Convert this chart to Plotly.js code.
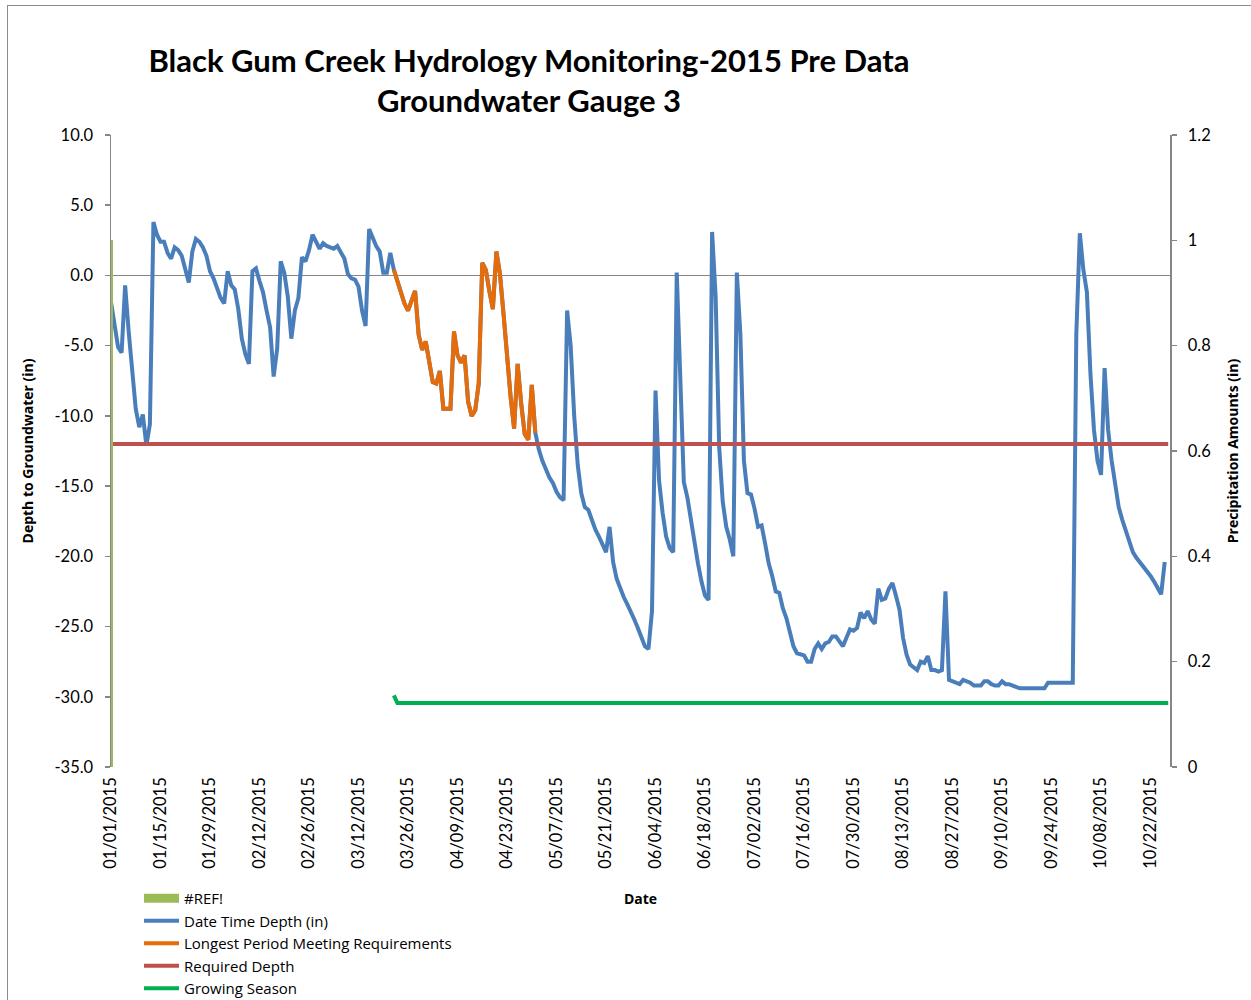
<!DOCTYPE html>
<html>
<head>
<meta charset="utf-8">
<script src="https://cdn.plot.ly/plotly-3.0.1.min.js"></script>
<style>
  html, body { margin:0; padding:0; background:#fff; overflow:hidden; }
  #chart { width:1251px; height:1000px; }
  #frame { position:absolute; left:7px; top:5px; width:1400px; height:1200px; border:1.5px solid #8c8c8c; pointer-events:none; }
</style>
</head>
<body>
<div id="chart"></div>
<div id="frame"></div>
<script>
// ---- data ----
var startDate = '2015-01-01';
// daily groundwater depth (in), one value per day from 01/01/2015
var depthIn = [
  -1.9, -3.6, -5.1, -5.5, -0.7, -4.0, -6.5, -9.5, -10.8, -9.9,
  -12.1, -10.6, 3.8, 2.9, 2.4, 2.4, 1.6, 1.2, 2.0, 1.8,
  1.4, 0.5, -0.5, 1.7, 2.6, 2.4, 2.0, 1.4, 0.3, -0.2,
  -1.0, -1.6, -2.0, 0.3, -0.7, -1.0, -2.4, -4.5, -5.6, -6.3,
  0.3, 0.5, -0.4, -1.2, -2.5, -3.7, -7.2, -5.2, 1.0, 0.2,
  -1.5, -4.5, -2.5, -1.6, 1.3, 1.0, 1.8, 2.9, 2.4, 1.9,
  2.3, 2.1, 2.0, 1.9, 2.1, 1.6, 1.2, 0.1, -0.2, -0.3,
  -0.8, -2.5, -3.6, 3.3, 2.7, 2.1, 1.7, 0.2, 0.2, 1.6,
  0.4, -0.3, -1.2, -2.0, -2.5, -1.8, -1.1, -4.2, -5.3, -4.7,
  -6.3, -7.6, -7.7, -6.8, -9.5, -9.5, -9.5, -4.0, -5.7, -6.2,
  -5.7, -9.0, -10.0, -9.6, -7.7, 0.9, 0.4, -1.1, -2.4, 1.7,
  0.1, -2.7, -5.8, -8.6, -10.9, -6.3, -9.1, -11.3, -11.7, -7.8,
  -11.2, -12.4, -13.2, -13.8, -14.4, -14.8, -15.4, -15.8, -16.0, -2.5,
  -5.0, -10.0, -13.5, -15.5, -16.5, -16.7, -17.5, -18.1, -18.6, -19.2,
  -19.7, -17.9, -20.4, -21.6, -22.3, -22.9, -23.4, -23.9, -24.5, -25.1,
  -25.8, -26.4, -26.6, -23.9, -8.2, -14.6, -16.9, -18.6, -19.4, -19.7,
  0.2, -8.4, -14.7, -15.8, -17.5, -19.0, -20.5, -21.8, -22.8, -23.1,
  3.1, -1.5, -12.2, -16.1, -17.9, -18.8, -20.0, 0.2, -4.2, -13.2,
  -15.5, -15.6, -16.6, -17.9, -17.8, -19.1, -20.5, -21.4, -22.5, -22.6,
  -23.7, -24.4, -25.5, -26.4, -26.9, -27.0, -27.05, -27.5, -27.5, -26.6,
  -26.2, -26.6, -26.2, -26.1, -25.7, -25.7, -26.0, -26.4, -25.8, -25.2,
  -25.3, -25.1, -24.0, -24.4, -23.9, -24.5, -24.8, -22.3, -23.1, -23.0,
  -22.3, -21.9, -22.8, -23.8, -25.8, -27.0, -27.7, -27.9, -28.1, -27.5,
  -27.6, -27.1, -28.1, -28.1, -28.2, -28.1, -22.5, -28.8, -28.9, -29.0,
  -29.1, -28.8, -28.9, -29.0, -29.2, -29.2, -29.2, -28.9, -28.9, -29.1,
  -29.2, -29.2, -28.9, -29.1, -29.1, -29.2, -29.3, -29.4, -29.4, -29.4,
  -29.4, -29.4, -29.4, -29.4, -29.4, -29.0, -29.0, -29.0, -29.0, -29.0,
  -29.0, -29.0, -29.0, -4.2, 3.0, 0.4, -1.2, -7.0, -11.0, -13.2,
  -14.2, -6.6, -11.0, -13.2, -15.0, -16.5, -17.4, -18.1, -18.9, -19.7,
  -20.1, -20.4, -20.8, -21.1, -21.4, -21.8, -22.2, -22.7, -20.4
];
// longest period meeting requirements: index range into the daily series
var longestStartIdx = 80;   // 03/22/2015
var longestEndIdx = 120;    // 04/30/2015
// required depth line
var reqDates = ['2015-01-01', '2015-10-27'];
var reqDepth = [-12, -12];
// growing season line
var growDates = ['2015-03-22', '2015-03-23', '2015-10-27'];
var growVals = [-29.9, -30.45, -30.45];
// #REF! series (secondary axis, precipitation)
var refDates = ['2015-01-01'];
var refVals = [1.0];
// axes
var xRange = ['2015-01-01', '2015-10-27 12:00'];
var leftRange = [-35, 10];
var leftTickVals = [-35, -30, -25, -20, -15, -10, -5, 0, 5, 10];
var leftTickText = ['-35.0', '-30.0', '-25.0', '-20.0', '-15.0', '-10.0', '-5.0', '0.0', '5.0', '10.0'];
var rightRange = [0, 1.2];
var rightTickVals = [0, 0.2, 0.4, 0.6, 0.8, 1, 1.2];
var rightTickText = ['0', '0.2', '0.4', '0.6', '0.8', '1', '1.2'];

// ---- build ----
function dayStr(i) {
  var d = new Date(Date.UTC(2015, 0, 1 + i));
  return d.toISOString().slice(0, 10);
}
var dates = depthIn.map(function (v, i) { return dayStr(i); });

var FONT = 'Lato, "Open Sans", sans-serif';
var FONT2 = '"Open Sans", Lato, sans-serif';
var DAY = 86400000;

var traces = [
  { type:'bar', x: refDates, y: refVals, yaxis:'y2', width: 1.2*DAY,
    marker:{ color:'#9BBB59', line:{width:0} }, name:'#REF!', legendgroup:'ref', showlegend:false, hoverinfo:'skip' },
  { type:'scatter', mode:'lines', x:[null], y:[null], name:'#REF!', legendgroup:'ref',
    line:{ color:'#9BBB59', width:9 } },
  { type:'scatter', mode:'lines', x: dates, y: depthIn, name:'Date Time Depth (in)',
    line:{ color:'#4A7EBB', width:4 } },
  { type:'scatter', mode:'lines', x: dates.slice(longestStartIdx, longestEndIdx + 1),
    y: depthIn.slice(longestStartIdx, longestEndIdx + 1), name:'Longest Period Meeting Requirements',
    line:{ color:'#E46C0A', width:4 } },
  { type:'scatter', mode:'lines', x: reqDates, y: reqDepth, name:'Required Depth',
    line:{ color:'#C0504D', width:4 } },
  { type:'scatter', mode:'lines', x: growDates, y: growVals, name:'Growing Season',
    line:{ color:'#00B050', width:4 } }
];

var layout = {
  width:1251, height:1000,
  margin:{ l:111, r:81, t:135, b:233, autoexpand:false },
  paper_bgcolor:'#fff', plot_bgcolor:'#fff',
  font:{ family: FONT, size:16, color:'#000' },
  showlegend:true,
  title:{ text:'Black Gum Creek Hydrology Monitoring-2015 Pre Data<br>Groundwater Gauge 3',
    font:{ family: FONT, size:31, color:'#000', weight:'bold' },
    x: 529/1251, xref:'container', xanchor:'center', y: 1 - 72/1000, yref:'container', yanchor:'top' },
  xaxis:{ type:'date', range: xRange, tick0:'2015-01-01', dtick: 14*DAY, tickformat:'%m/%d/%Y',
    tickangle:-90, showgrid:false, zeroline:false, showline:false, ticks:'',
    ticklabelstandoff: 6,
    tickfont:{ family: FONT, size:16.5, color:'#000' },
    title:{ text:'Date', font:{ family: FONT2, size:14, weight:'bold', color:'#000' }, standoff: 26 } },
  yaxis:{ range: leftRange, tickmode:'array', tickvals: leftTickVals, ticktext: leftTickText, showgrid:false,
    zeroline:true, zerolinecolor:'#868686', zerolinewidth:1.5,
    showline:true, linecolor:'#868686', linewidth:1.5, ticks:'outside', ticklen:5, tickcolor:'#868686', tickwidth:1.5,
    layer:'below traces', ticklabelstandoff: 8,
    tickfont:{ family: FONT, size:16.5, color:'#000' },
    title:{ text:'Depth to Groundwater (in)', font:{ family: FONT2, size:14, weight:'bold', color:'#000' }, standoff: 17 } },
  yaxis2:{ overlaying:'y', side:'right', range: rightRange, tickmode:'array', tickvals: rightTickVals, ticktext: rightTickText,
    showgrid:false, zeroline:false,
    showline:true, linecolor:'#868686', linewidth:1.5, ticks:'outside', ticklen:5, tickcolor:'#868686', tickwidth:1.5,
    layer:'below traces', ticklabelstandoff: 8,
    tickfont:{ family: FONT, size:16.5, color:'#000' },
    title:{ text:'Precipitation Amounts (in)', font:{ family: FONT2, size:14, weight:'bold', color:'#000' }, standoff: 18 } },
  legend:{ x: (139-111)/1059, xanchor:'left', y: (767-882)/632, yanchor:'top', orientation:'v',
    bgcolor:'rgba(0,0,0,0)', borderwidth:0, tracegroupgap:0, itemwidth:35,
    font:{ family: FONT2, size:15, color:'#000' } },
  bargap:0
};

Plotly.newPlot('chart', traces, layout, { displayModeBar:false, staticPlot:true });
</script>
</body>
</html>
